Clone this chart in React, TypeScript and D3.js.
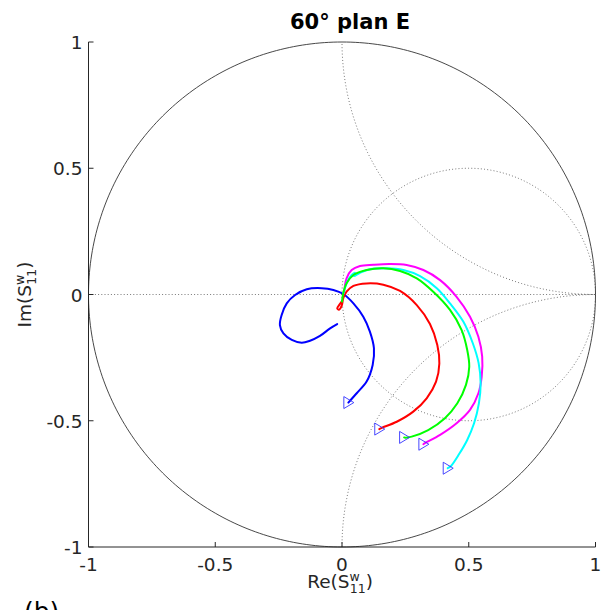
import React from "react";
import * as d3 from "d3";

const W = 601;
const H = 610;

const xTicks = [-1, -0.5, 0, 0.5, 1];
const yTicks = [-1, -0.5, 0, 0.5, 1];
const xTickLabels = ["-1", "-0.5", "0", "0.5", "1"];
const yTickLabels = ["-1", "-0.5", "0", "0.5", "1"];

const titleText = "60° plan E";

const blueRe = [-0.019, -0.047, -0.087, -0.126, -0.159, -0.198, -0.231, -0.245, -0.238, -0.218, -0.185, -0.139, -0.080, -0.034, 0.005, 0.045, 0.084, 0.110, 0.126, 0.121, 0.097, 0.058, 0.025];
const blueIm = [-0.117, -0.134, -0.164, -0.183, -0.191, -0.180, -0.154, -0.121, -0.081, -0.035, -0.002, 0.021, 0.025, 0.018, 0.002, -0.035, -0.088, -0.147, -0.213, -0.279, -0.345, -0.391, -0.428];

const redRe = [0.003, -0.010, -0.019, -0.012, -0.001, 0.005, 0.018, 0.045, 0.097, 0.163, 0.229, 0.295, 0.347, 0.376, 0.384, 0.371, 0.334, 0.281, 0.216, 0.157, 0.147];
const redIm = [-0.022, -0.040, -0.055, -0.060, -0.044, -0.015, 0.011, 0.034, 0.044, 0.039, 0.014, -0.042, -0.117, -0.200, -0.273, -0.345, -0.411, -0.464, -0.504, -0.528, -0.533];

const greenRe = [0.0, 0.005, 0.018, 0.045, 0.097, 0.163, 0.229, 0.295, 0.360, 0.426, 0.472, 0.494, 0.502, 0.489, 0.455, 0.406, 0.340, 0.275, 0.249, 0.245];
const greenIm = [-0.028, 0.005, 0.044, 0.077, 0.097, 0.104, 0.093, 0.064, 0.011, -0.061, -0.141, -0.220, -0.286, -0.358, -0.431, -0.490, -0.537, -0.563, -0.567, -0.566];

const magentaRe = [0.008, 0.018, 0.038, 0.071, 0.124, 0.189, 0.255, 0.321, 0.387, 0.452, 0.505, 0.538, 0.553, 0.551, 0.538, 0.505, 0.452, 0.387, 0.327, 0.321];
const magentaIm = [0.005, 0.064, 0.097, 0.113, 0.118, 0.121, 0.117, 0.097, 0.057, -0.009, -0.088, -0.167, -0.246, -0.326, -0.391, -0.457, -0.510, -0.556, -0.589, -0.593];

const cyanRe = [0.005, 0.021, 0.038, 0.051, 0.047, 0.071, 0.110, 0.176, 0.242, 0.308, 0.374, 0.426, 0.479, 0.516, 0.539, 0.547, 0.540, 0.521, 0.494, 0.462, 0.430, 0.417];
const cyanIm = [0.002, 0.051, 0.077, 0.086, 0.073, 0.086, 0.100, 0.104, 0.097, 0.073, 0.025, -0.035, -0.108, -0.193, -0.272, -0.352, -0.431, -0.510, -0.576, -0.632, -0.679, -0.688];

const seriesNames = ["blue", "red", "magenta", "cyan", "green"];
const seriesColors = ["#0000ff", "#ff0000", "#ff00ff", "#00ffff", "#00ff00"];
const seriesRe = [blueRe, redRe, magentaRe, cyanRe, greenRe];
const seriesIm = [blueIm, redIm, magentaIm, cyanIm, greenIm];

export default function App() {
  const x = d3.scaleLinear().domain([-1, 1]).range([88.5, 595.5]);
  const y = d3.scaleLinear().domain([-1, 1]).range([547, 42]);

  const line = d3
    .line<[number, number]>()
    .x((d) => x(d[0]))
    .y((d) => y(d[1]))
    .curve(d3.curveCatmullRom.alpha(0.5));

  const circlePts = (cx: number, cy: number, r: number, n = 360): [number, number][] =>
    d3.range(n + 1).map((i) => {
      const t = (i / n) * 2 * Math.PI;
      return [cx + r * Math.cos(t), cy + r * Math.sin(t)];
    });
  const lin = d3
    .line<[number, number]>()
    .x((d) => x(d[0]))
    .y((d) => y(d[1]));

  const font = "'DejaVu Sans', sans-serif";
  const axisColor = "#262626";
  const dotted = { fill: "none", stroke: "#555", strokeWidth: 0.8, strokeDasharray: "1 2.2" };

  return (
    <svg width={W} height={H} style={{ position: "absolute", left: 0, top: 0, background: "#fff" }}>
      <defs>
        <clipPath id="unit">
          <path d={lin(circlePts(0, 0, 1)) || ""} />
        </clipPath>
      </defs>
      <rect x={0} y={0} width={W} height={H} fill="#fff" />

      {/* Smith grid */}
      <g clipPath="url(#unit)">
        <path d={lin([[-1, 0], [1, 0]]) || ""} {...dotted} />
        <path d={lin(circlePts(0.5, 0, 0.5)) || ""} {...dotted} />
        <path d={lin(circlePts(1, 1, 1)) || ""} {...dotted} />
        <path d={lin(circlePts(1, -1, 1)) || ""} {...dotted} />
      </g>
      <path d={lin(circlePts(0, 0, 1)) || ""} fill="none" stroke="#333" strokeWidth={0.9} />

      {/* axes */}
      <line x1={x(-1)} x2={x(-1)} y1={y(-1)} y2={y(1)} stroke={axisColor} strokeWidth={1} />
      <line x1={x(-1)} x2={x(1)} y1={y(-1)} y2={y(-1)} stroke={axisColor} strokeWidth={1} />
      {xTicks.map((t, i) => (
        <g key={"xt" + i}>
          <line x1={x(t)} x2={x(t)} y1={y(-1)} y2={y(-1) - 5} stroke={axisColor} strokeWidth={1} />
          <text x={x(t)} y={y(-1) + 24} textAnchor="middle" fontFamily={font} fontSize={18.5} fill={axisColor}>
            {xTickLabels[i]}
          </text>
        </g>
      ))}
      {yTicks.map((t, i) => (
        <g key={"yt" + i}>
          <line x1={x(-1)} x2={x(-1) + 5} y1={y(t)} y2={y(t)} stroke={axisColor} strokeWidth={1} />
          <text x={x(-1) - 6} y={y(t) + 7} textAnchor="end" fontFamily={font} fontSize={18.5} fill={axisColor}>
            {yTickLabels[i]}
          </text>
        </g>
      ))}

      {/* data */}
      {seriesNames.map((nm, k) => {
        const pts: [number, number][] = seriesRe[k].map((r, i) => [r, seriesIm[k][i]]);
        return <path key={nm} d={line(pts) || ""} fill="none" stroke={seriesColors[k]} strokeWidth={2} strokeLinejoin="round" strokeLinecap="round" />;
      })}
      {seriesNames.map((nm, k) => {
        const n = seriesRe[k].length - 1;
        const px = x(seriesRe[k][n]);
        const py = y(seriesIm[k][n]);
        return (
          <path
            key={"m" + nm}
            d={`M${px - 4.5},${py - 6}L${px - 4.5},${py + 6}L${px + 5.5},${py}Z`}
            fill="none"
            stroke="#3333ff"
            strokeWidth={0.9}
          />
        );
      })}

      {/* title */}
      <text x={350} y={29} textAnchor="middle" fontFamily={font} fontWeight="bold" fontSize={21} fill="#000">
        {titleText}
      </text>

      {/* x label */}
      <text x={340} y={588} textAnchor="middle" fontFamily={font} fontSize={18.5} fill={axisColor}>
        <tspan>Re(S</tspan>
        <tspan fontSize={12.5} dy={-7}>w</tspan>
        <tspan fontSize={12.5} dx={-10} dy={12}>11</tspan>
        <tspan dy={-5}>)</tspan>
      </text>

      {/* y label */}
      <text
        transform={`translate(31,${y(0)}) rotate(-90)`}
        textAnchor="middle"
        fontFamily={font}
        fontSize={18.5}
        fill={axisColor}
      >
        <tspan>Im(S</tspan>
        <tspan fontSize={12.5} dy={-7}>w</tspan>
        <tspan fontSize={12.5} dx={-10} dy={12}>11</tspan>
        <tspan dy={-5}>)</tspan>
      </text>

      {/* panel label */}
      <text x={24} y={620} fontFamily={font} fontSize={25} fill="#000">
        (b)
      </text>
    </svg>
  );
}
